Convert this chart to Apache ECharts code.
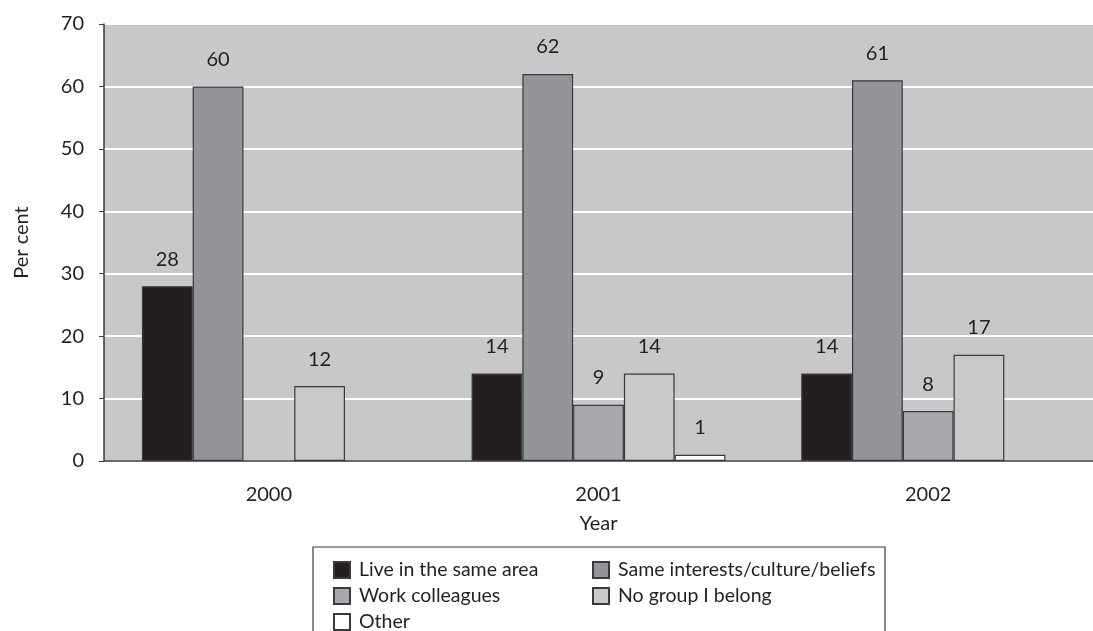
<!DOCTYPE html>
<html>
<head>
<meta charset="utf-8">
<script src="https://cdn.jsdelivr.net/npm/echarts@6/dist/echarts.min.js"></script>
<style>
  html, body { margin: 0; padding: 0; background: #ffffff; }
  #chart { width: 1093px; height: 631px; }
</style>
</head>
<body>
<div id="chart"></div>
<script>
// Survey years on the category axis
const years = ['2000', '2001', '2002'];

// Percentage of respondents per answer, one value per year (null = no bar)
const liveSameArea = [28, 14, 14];
const sameInterests = [60, 62, 61];
const workColleagues = [null, 9, 8];
const noGroup = [12, 14, 17];
const other = [null, 1, null];

const FONT = 'Lato, "Open Sans", sans-serif';
const INK = '#231f20';
const FS = 20;

function barSeries(name, data, color) {
  return {
    name: name,
    type: 'bar',
    data: data,
    barGap: '0%',
    barCategoryGap: '23%',
    itemStyle: { color: color, borderColor: '#3a3a3a', borderWidth: 1.2 },
    label: {
      show: true,
      position: 'top',
      distance: 17,
      color: INK,
      fontFamily: FONT,
      fontSize: FS
    }
  };
}

const legendText = { color: INK, fontFamily: FONT, fontSize: 19.5, padding: [0, 0, 0, 4] };

const chart = echarts.init(document.getElementById('chart'), null, { renderer: 'canvas' });

chart.setOption({
  animation: false,
  backgroundColor: '#ffffff',
  grid: {
    left: 104, top: 24, right: 0, bottom: 170,
    outerBoundsMode: 'none',
    containLabel: false,
    show: true, backgroundColor: '#c7c8ca', borderWidth: 0
  },
  xAxis: {
    type: 'category',
    data: years,
    name: 'Year',
    nameLocation: 'middle',
    nameGap: 53,
    nameMoveOverlap: false,
    nameTextStyle: { color: INK, fontFamily: FONT, fontSize: FS },
    axisLine: { lineStyle: { color: '#3a3a3a', width: 1.5 } },
    axisTick: { length: 6, lineStyle: { color: '#3a3a3a' } },
    axisLabel: { margin: 24, color: INK, fontFamily: FONT, fontSize: FS }
  },
  yAxis: {
    type: 'value',
    min: 0, max: 70, interval: 10,
    name: 'Per cent',
    nameLocation: 'middle',
    nameGap: 72,
    nameMoveOverlap: false,
    nameTextStyle: { color: INK, fontFamily: FONT, fontSize: FS },
    axisLine: { show: true, lineStyle: { color: '#3a3a3a', width: 1.5 } },
    axisTick: { show: true, length: 5, lineStyle: { color: '#3a3a3a' } },
    axisLabel: { margin: 20, color: INK, fontFamily: FONT, fontSize: FS },
    splitLine: { show: true, lineStyle: { color: '#ffffff', width: 2 } }
  },
  legend: [
    {
      left: 328, top: 555, height: 95, orient: 'vertical',
      itemWidth: 16, itemHeight: 16, itemGap: 6,
      icon: 'rect', selectedMode: false,
      textStyle: legendText,
      data: ['Live in the same area', 'Work colleagues', 'Other']
    },
    {
      left: 587, top: 555, height: 95, orient: 'vertical',
      itemWidth: 16, itemHeight: 16, itemGap: 6,
      icon: 'rect', selectedMode: false,
      textStyle: legendText,
      data: ['Same interests/culture/beliefs', 'No group I belong']
    }
  ],
  graphic: [
    {
      type: 'rect',
      shape: { x: 313, y: 547, width: 572, height: 100 },
      style: { fill: 'none', stroke: '#3a3a3a', lineWidth: 1.2 },
      silent: true
    },
    {
      type: 'line',
      shape: { x1: 104, y1: 24, x2: 1093, y2: 24 },
      style: { stroke: '#3a3a3a', lineWidth: 1.5 },
      silent: true
    }
  ],
  series: [
    barSeries('Live in the same area', liveSameArea, '#231f20'),
    barSeries('Same interests/culture/beliefs', sameInterests, '#939598'),
    barSeries('Work colleagues', workColleagues, '#a7a9ac'),
    barSeries('No group I belong', noGroup, '#c8c9cb'),
    barSeries('Other', other, '#ffffff')
  ]
});
</script>
</body>
</html>
